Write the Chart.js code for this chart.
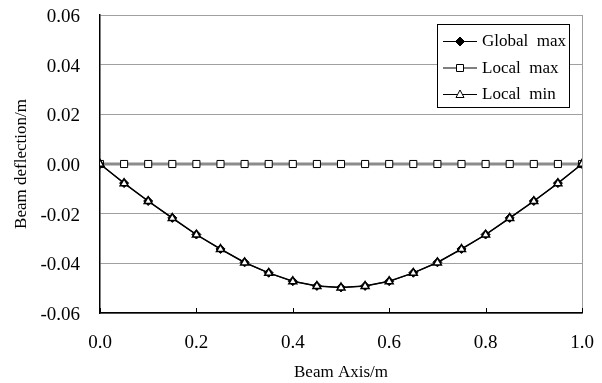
<!DOCTYPE html>
<html>
<head>
<meta charset="utf-8">
<script src="https://cdn.jsdelivr.net/npm/chart.js@4.4.1/dist/chart.umd.min.js"></script>
<style>
html,body{margin:0;padding:0;background:#fff;}
canvas{display:block;}
</style>
</head>
<body>
<canvas id="c" width="602" height="383"></canvas>
<script>
const beamAxis = [0, 0.05, 0.1, 0.15, 0.2, 0.25, 0.3, 0.35, 0.4, 0.45, 0.5, 0.55, 0.6, 0.65, 0.7, 0.75, 0.8, 0.85, 0.9, 0.95, 1.0];
const globalMax = [0, -0.0077, -0.0149, -0.0217, -0.0284, -0.0342, -0.0396, -0.0438, -0.0472, -0.0491, -0.0497, -0.0491, -0.0472, -0.0438, -0.0396, -0.0342, -0.0284, -0.0217, -0.0149, -0.0077, 0];
const localMax = [0, 0, 0, 0, 0, 0, 0, 0, 0, 0, 0, 0, 0, 0, 0, 0, 0, 0, 0, 0, 0];
const localMin = [0, -0.0078, -0.0150, -0.0218, -0.0285, -0.0343, -0.0397, -0.0439, -0.0473, -0.0492, -0.0498, -0.0492, -0.0473, -0.0439, -0.0397, -0.0343, -0.0285, -0.0218, -0.0150, -0.0078, 0];
const xTicks = [0, 0.2, 0.4, 0.6, 0.8, 1.0];
const yTicks = [-0.06, -0.04, -0.02, 0, 0.02, 0.04, 0.06];
const seriesNames = ['Global  max', 'Local  max', 'Local  min'];

const FONT = 'Liberation Serif, "Times New Roman", serif';

function pts(ys){ return beamAxis.map((x,i)=>({x:x, y:ys[i]})); }

function drawMarker(ctx, kind, x, y){
  ctx.save();
  ctx.lineWidth = 1;
  ctx.strokeStyle = '#000';
  ctx.beginPath();
  if (kind === 0) {
    const r = 4.5;
    ctx.moveTo(x, y - r); ctx.lineTo(x + r, y); ctx.lineTo(x, y + r); ctx.lineTo(x - r, y); ctx.closePath();
    ctx.fillStyle = '#000'; ctx.fill(); ctx.stroke();
  } else if (kind === 1) {
    ctx.rect(x - 3.5, y - 3.5, 7, 7);
    ctx.fillStyle = '#fff'; ctx.fill(); ctx.stroke();
  } else {
    ctx.moveTo(x, y - 4.5); ctx.lineTo(x + 4, y + 3); ctx.lineTo(x - 4, y + 3); ctx.closePath();
    ctx.fillStyle = '#fff'; ctx.fill(); ctx.stroke();
  }
  ctx.restore();
}

const extras = {
  id: 'extras',
  afterDatasetsDraw(chart){
    const ctx = chart.ctx, a = chart.chartArea;
    const xs = chart.scales.x;
    ctx.save();
    ctx.strokeStyle = '#a0a0a0';
    ctx.lineWidth = 1;
    ctx.beginPath();
    ctx.moveTo(a.right + 0.5, a.top); ctx.lineTo(a.right + 0.5, a.bottom);
    ctx.stroke();
    ctx.strokeStyle = '#000';
    ctx.lineWidth = 1;
    xTicks.forEach(v => {
      const px = Math.round(xs.getPixelForValue(v)) + 0.5;
      ctx.beginPath();
      ctx.moveTo(px, a.bottom); ctx.lineTo(px, a.bottom - 5);
      ctx.stroke();
    });
    ctx.restore();
  },
  afterDraw(chart){
    const ctx = chart.ctx;
    ctx.save();
    const bx = 437, by = 24, bw = 132, bh = 83;
    ctx.fillStyle = '#fff';
    ctx.fillRect(bx, by, bw, bh);
    ctx.strokeStyle = '#000';
    ctx.lineWidth = 1;
    ctx.strokeRect(bx + 0.5, by + 0.5, bw, bh);
    const rows = [41, 67.5, 94];
    ctx.font = '17px ' + FONT;
    ctx.textBaseline = 'middle';
    ctx.textAlign = 'left';
    rows.forEach((ry, i) => {
      ctx.strokeStyle = '#000';
      ctx.lineWidth = 1;
      ctx.beginPath();
      ctx.moveTo(443, ry + 0.5); ctx.lineTo(477, ry + 0.5);
      ctx.stroke();
      drawMarker(ctx, i, 460, ry + 0.5);
      ctx.fillStyle = '#000';
      ctx.fillText(seriesNames[i], 482, ry + 1);
    });
    ctx.restore();
  }
};

new Chart(document.getElementById('c'), {
  type: 'scatter',
  data: {
    datasets: [
      {
        label: seriesNames[0], data: pts(globalMax), showLine: true,
        borderColor: '#000', borderWidth: 1.3, backgroundColor: '#000',
        pointStyle: 'rectRot', pointRadius: 4.5, pointBorderWidth: 1,
        pointBorderColor: '#000', pointBackgroundColor: '#000', order: 3
      },
      {
        label: seriesNames[1], data: pts(localMax), showLine: true,
        borderColor: '#8c8c8c', borderWidth: 3, backgroundColor: '#fff',
        pointStyle: 'rect', pointRadius: 5, pointBorderWidth: 1,
        pointBorderColor: '#000', pointBackgroundColor: '#fff', order: 2
      },
      {
        label: seriesNames[2], data: pts(localMin), showLine: true,
        borderColor: '#000', borderWidth: 1.2, backgroundColor: '#fff',
        pointStyle: 'triangle', pointRadius: 4.6, pointBorderWidth: 1.5,
        pointBorderColor: '#000', pointBackgroundColor: '#fff', order: 1
      }
    ]
  },
  options: {
    responsive: false,
    animation: false,
    devicePixelRatio: 1,
    layout: { padding: { top: 15, right: 20, left: 0, bottom: 0 } },
    plugins: { legend: { display: false }, tooltip: { enabled: false } },
    scales: {
      x: {
        type: 'linear', min: 0, max: 1,
        afterBuildTicks(s){ s.ticks = xTicks.map(v => ({value: v})); },
        afterFit(s){ s.height = 70; s.paddingLeft = 0; s.paddingRight = 0; },
        ticks: {
          callback: v => v.toFixed(1), color: '#000', padding: 19,
          font: { family: FONT, size: 19 }, maxRotation: 0, autoSkip: false
        },
        grid: { display: false, drawTicks: false },
        border: { display: true, color: '#000', width: 1.5 },
        title: {
          display: true, text: 'Beam Axis/m', color: '#000',
          font: { family: FONT, size: 17 }, padding: { top: 0, bottom: 0 }
        }
      },
      y: {
        type: 'linear', min: -0.06, max: 0.06,
        afterBuildTicks(s){ s.ticks = yTicks.map(v => ({value: v})); },
        afterFit(s){ s.width = 100; s.paddingTop = 0; s.paddingBottom = 0; },
        ticks: {
          callback: v => (Math.abs(v) < 1e-9 ? 0 : v).toFixed(2), color: '#000', padding: 20,
          font: { family: FONT, size: 19 }, autoSkip: false, labelOffset: 2
        },
        grid: { color: '#a0a0a0', lineWidth: 1, drawTicks: false },
        border: { display: true, color: '#000', width: 1.5 },
        title: {
          display: true, text: 'Beam deflection/m', color: '#000',
          font: { family: FONT, size: 17 }, padding: { top: 11, bottom: 0 }
        }
      }
    }
  },
  plugins: [extras]
});
</script>
</body>
</html>
